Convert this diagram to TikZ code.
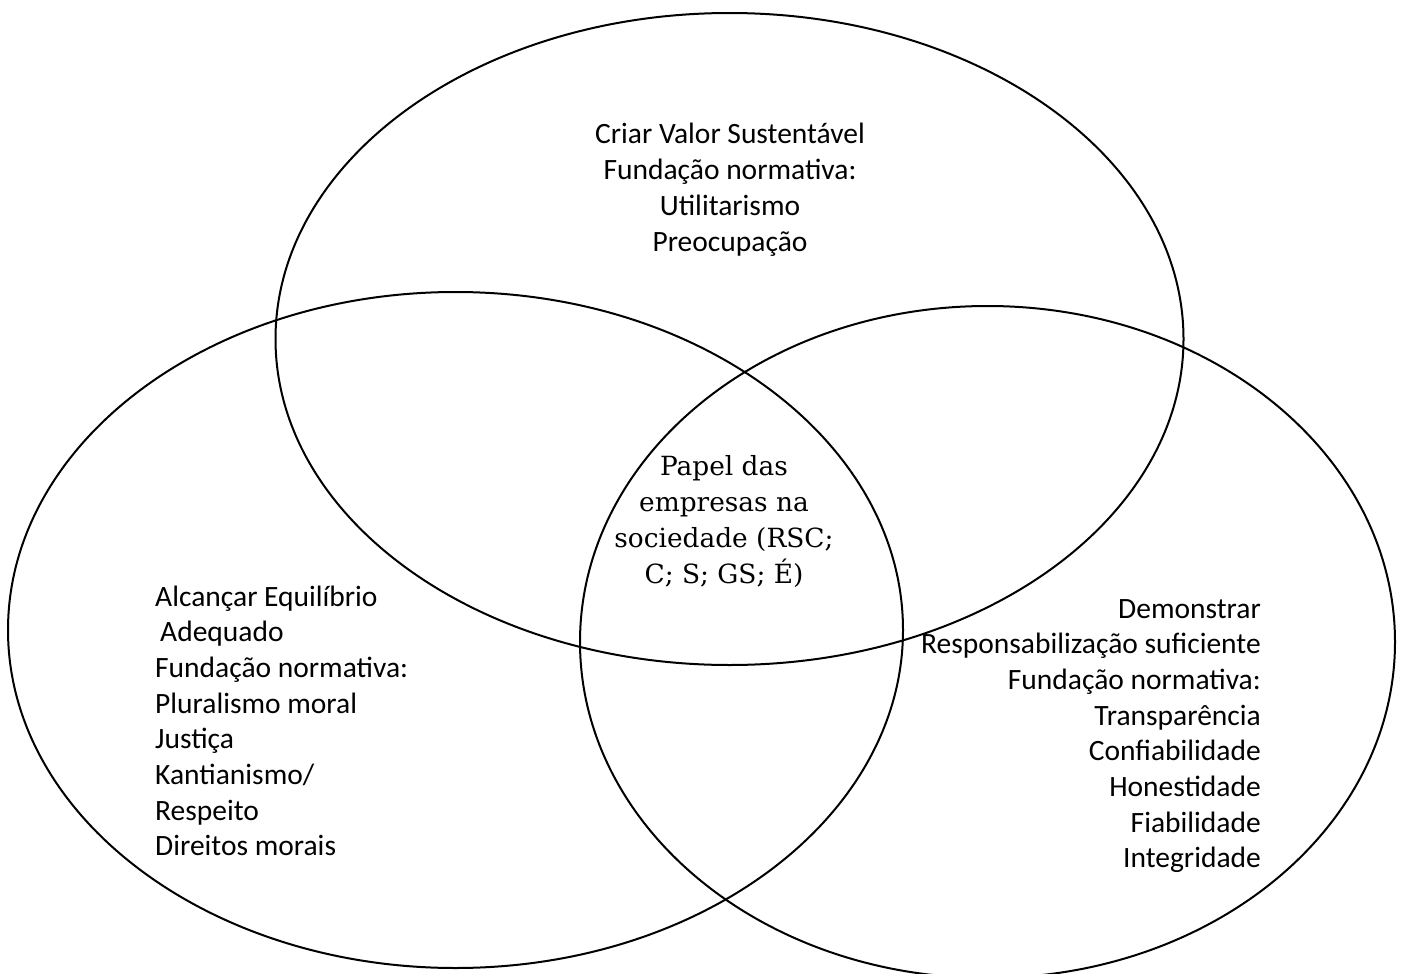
\documentclass[tikz,border=0pt]{standalone}
\usepackage{fontspec}
\setmainfont{Carlito}
\newfontfamily\centerserif{DejaVu Serif}
\begin{document}
\begin{tikzpicture}[x=1pt,y=-1pt,
  venn/.style={draw=black,line width=2pt},
  lbl/.style={inner sep=0pt,font=\fontsize{29.5}{35.7}\selectfont},
  ctr/.style={inner sep=0pt,font=\centerserif\fontsize{26.4}{35}\selectfont}]
\useasboundingbox (0,0) rectangle (1405,974);
\draw[venn] (729.5,339) ellipse [x radius=454pt,y radius=326pt];
\draw[venn] (455.5,630) ellipse [x radius=447.5pt,y radius=338pt];
\draw[venn] (987.5,642) ellipse [x radius=407.5pt,y radius=336pt];
% top set
\foreach \t [count=\i] in {Criar Valor Sustentável, Fundação normativa:, Utilitarismo, Preocupação}
  \node[lbl,anchor=base] (top\i) at (730,{143+36*(\i-1)}) {\t};
% left set
\foreach \t [count=\i] in {Alcançar Equilíbrio, {\hspace*{5pt}Adequado}, Fundação normativa:, Pluralismo moral, Justiça, Kantianismo/, Respeito, Direitos morais}
  \node[lbl,anchor=base west] (left\i) at (155,{606+35.7*(\i-1)}) {\t};
% right set
\foreach \t [count=\i] in {Demonstrar, Responsabilização suficiente, Fundação normativa:, Transparência, Confiabilidade, Honestidade, Fiabilidade, Integridade}
  \node[lbl,anchor=base east] (right\i) at (1261,{618+35.7*(\i-1)}) {\t};
% centre
\foreach \t [count=\i] in {Papel das, empresas na, {sociedade (RSC;}, {C; S; GS; É)}}
  \node[ctr,anchor=base] (mid\i) at (724,{475+36.3*(\i-1)}) {\t};
\end{tikzpicture}
\end{document}
